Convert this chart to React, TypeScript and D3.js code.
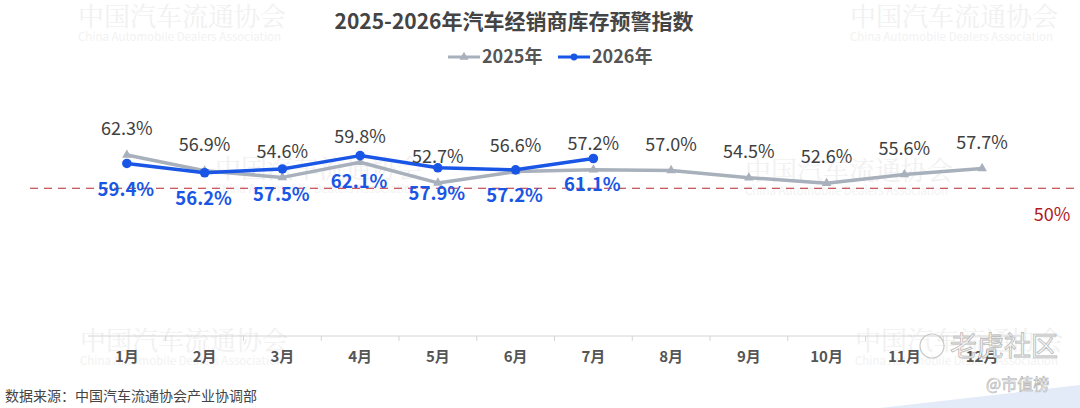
import { useEffect, useRef } from "react";
import * as d3 from "d3";

const months = ["1月", "2月", "3月", "4月", "5月", "6月", "7月", "8月", "9月", "10月", "11月", "12月"];
const values2025 = [62.3, 56.9, 54.6, 59.8, 52.7, 56.6, 57.2, 57.0, 54.5, 52.6, 55.6, 57.7];
const values2026 = [59.4, 56.2, 57.5, 62.1, 57.9, 57.2, 61.1];
const warnLine = 50;

const FONT = "'Noto Sans CJK SC', 'Noto Sans', sans-serif";
const GRAY = "#a8b0bc";
const BLUE = "#1a56e6";

const App = () => {
  const svgRef = useRef<SVGSVGElement>(null);

  useEffect(() => {
    const width = 1080,
      height = 408;

    const svg = d3.select(svgRef.current);
    svg.selectAll("*").remove();

    svg.append("rect").attr("width", width).attr("height", height).attr("fill", "#fff");

    // faint association watermarks
    const marks = [
      [78, 26],
      [850, 26],
      [215, 178],
      [745, 180],
      [80, 350],
      [855, 350],
    ];
    const wm = svg.append("g").attr("pointer-events", "none");
    marks.forEach(([x, y]) => {
      wm.append("text")
        .attr("x", x)
        .attr("y", y)
        .attr("font-family", "'Noto Serif CJK SC', 'DejaVu Serif', serif")
        .attr("font-size", 26)
        .attr("fill", "#f1f1f1")
        .text("中国汽车流通协会");
      wm.append("text")
        .attr("x", x)
        .attr("y", y + 15)
        .attr("font-family", FONT)
        .attr("font-size", 11.5)
        .attr("fill", "#f2f2f2")
        .text("China Automobile Dealers Association");
    });

    // faint blue band bottom right
    svg.append("path")
      .attr("d", "M880,408 L1080,385 L1080,408 Z")
      .attr("fill", "#e3ebf8");

    // title
    svg.append("text")
      .attr("x", 514)
      .attr("y", 29)
      .attr("text-anchor", "middle")
      .attr("font-family", FONT)
      .attr("font-size", 21)
      .attr("font-weight", "bold")
      .attr("fill", "#444")
      .text("2025-2026年汽车经销商库存预警指数");

    // legend
    const legendData = [
      { name: "2025年", color: GRAY, shape: "triangle", x: 448 },
      { name: "2026年", color: BLUE, shape: "circle", x: 558 },
    ];
    const legend = svg.append("g");
    legendData.forEach((d) => {
      legend.append("line")
        .attr("x1", d.x)
        .attr("x2", d.x + 32)
        .attr("y1", 57)
        .attr("y2", 57)
        .attr("stroke", d.color)
        .attr("stroke-width", 3);
      legend.append("path")
        .attr("transform", `translate(${d.x + 16},57)`)
        .attr("d", d3.symbol(d.shape === "circle" ? d3.symbolCircle : d3.symbolTriangle, 36)()!)
        .attr("fill", d.color);
      legend.append("text")
        .attr("x", d.x + 34)
        .attr("y", 57)
        .attr("dy", "0.35em")
        .attr("font-family", FONT)
        .attr("font-size", 18)
        .attr("font-weight", "bold")
        .attr("fill", "#555")
        .text(d.name);
    });

    // scales
    const x = d3.scaleBand().domain(months).range([88, 1021]);
    const cx = (m: string) => (x(m) || 0) + x.bandwidth() / 2;
    const y = d3.scaleLinear().domain([0, 70]).range([336, 336 - 70 * 2.905]);

    // x axis
    const axis = svg.append("g");
    axis.append("line")
      .attr("x1", 88)
      .attr("x2", 1021)
      .attr("y1", 336)
      .attr("y2", 336)
      .attr("stroke", "#d4d4d4");
    axis.selectAll(".tick")
      .data(months)
      .enter()
      .append("line")
      .attr("x1", (d) => (x(d) || 0) + x.bandwidth())
      .attr("x2", (d) => (x(d) || 0) + x.bandwidth())
      .attr("y1", 336)
      .attr("y2", 341)
      .attr("stroke", "#d4d4d4");
    axis.selectAll(".mlabel")
      .data(months)
      .enter()
      .append("text")
      .attr("x", (d) => cx(d))
      .attr("y", 357)
      .attr("dy", "0.35em")
      .attr("text-anchor", "middle")
      .attr("font-family", FONT)
      .attr("font-size", 15)
      .attr("font-weight", "bold")
      .attr("fill", "#555")
      .text((d) => d);

    // 50% warning line
    svg.append("line")
      .attr("x1", 30)
      .attr("x2", 1075)
      .attr("y1", y(warnLine) - 2.5)
      .attr("y2", y(warnLine) - 2.5)
      .attr("stroke", "#b8262f")
      .attr("stroke-width", 1)
      .attr("stroke-dasharray", "8,6");
    svg.append("text")
      .attr("x", 1052)
      .attr("y", 215)
      .attr("dy", "0.35em")
      .attr("text-anchor", "middle")
      .attr("font-family", FONT)
      .attr("font-size", 18)
      .attr("fill", "#b3181c")
      .text("50%");

    const line = d3.line<number>()
      .x((_, i) => cx(months[i]))
      .y((d) => y(d));

    // 2025 series
    svg.append("path")
      .datum(values2025)
      .attr("d", line)
      .attr("fill", "none")
      .attr("stroke", GRAY)
      .attr("stroke-width", 3.5)
      .attr("stroke-linejoin", "round");
    svg.selectAll(".m25")
      .data(values2025)
      .enter()
      .append("path")
      .attr("transform", (d, i) => `translate(${cx(months[i])},${y(d)})`)
      .attr("d", d3.symbol(d3.symbolTriangle, 40)()!)
      .attr("fill", GRAY);

    // 2026 series
    svg.append("path")
      .datum(values2026)
      .attr("d", line)
      .attr("fill", "none")
      .attr("stroke", BLUE)
      .attr("stroke-width", 3.5)
      .attr("stroke-linejoin", "round");
    svg.selectAll(".m26")
      .data(values2026)
      .enter()
      .append("circle")
      .attr("cx", (_, i) => cx(months[i]))
      .attr("cy", (d) => y(d))
      .attr("r", 4.8)
      .attr("fill", BLUE);

    // labels
    svg.selectAll(".l25")
      .data(values2025)
      .enter()
      .append("text")
      .attr("x", (_, i) => cx(months[i]))
      .attr("y", (d) => y(d) - 26)
      .attr("dy", "0.35em")
      .attr("text-anchor", "middle")
      .attr("font-family", FONT)
      .attr("font-size", 18)
      .attr("fill", "#404040")
      .text((d) => `${d.toFixed(1)}%`);
    svg.selectAll(".l26")
      .data(values2026)
      .enter()
      .append("text")
      .attr("x", (_, i) => cx(months[i]) - 1)
      .attr("y", (d) => y(d) + 26)
      .attr("dy", "0.35em")
      .attr("text-anchor", "middle")
      .attr("font-family", FONT)
      .attr("font-size", 18.5)
      .attr("font-weight", "bold")
      .attr("fill", BLUE)
      .text((d) => `${d.toFixed(1)}%`);

    // source
    svg.append("text")
      .attr("x", 5)
      .attr("y", 401)
      .attr("font-family", FONT)
      .attr("font-size", 14)
      .attr("fill", "#444")
      .text("数据来源：中国汽车流通协会产业协调部");

    // platform watermarks
    svg.append("circle")
      .attr("cx", 932)
      .attr("cy", 346)
      .attr("r", 12)
      .attr("fill", "none")
      .attr("stroke", "#c8c8c8")
      .attr("stroke-width", 1.2);
    svg.append("text")
      .attr("x", 950)
      .attr("y", 356)
      .attr("font-family", FONT)
      .attr("font-size", 27)
      .attr("fill", "#fafafa")
      .attr("stroke", "#b8b8b8")
      .attr("stroke-width", 0.8)
      .text("老虎社区");
    svg.append("text")
      .attr("x", 986)
      .attr("y", 390)
      .attr("font-family", FONT)
      .attr("font-size", 16)
      .attr("fill", "#fafafa")
      .attr("stroke", "#b0b0b0")
      .attr("stroke-width", 0.6)
      .text("@市值榜");
  }, []);

  return (
    <svg
      ref={svgRef}
      width={1080}
      height={408}
      style={{ position: "absolute", left: 0, top: 0, display: "block" }}
    ></svg>
  );
};

export default App;
